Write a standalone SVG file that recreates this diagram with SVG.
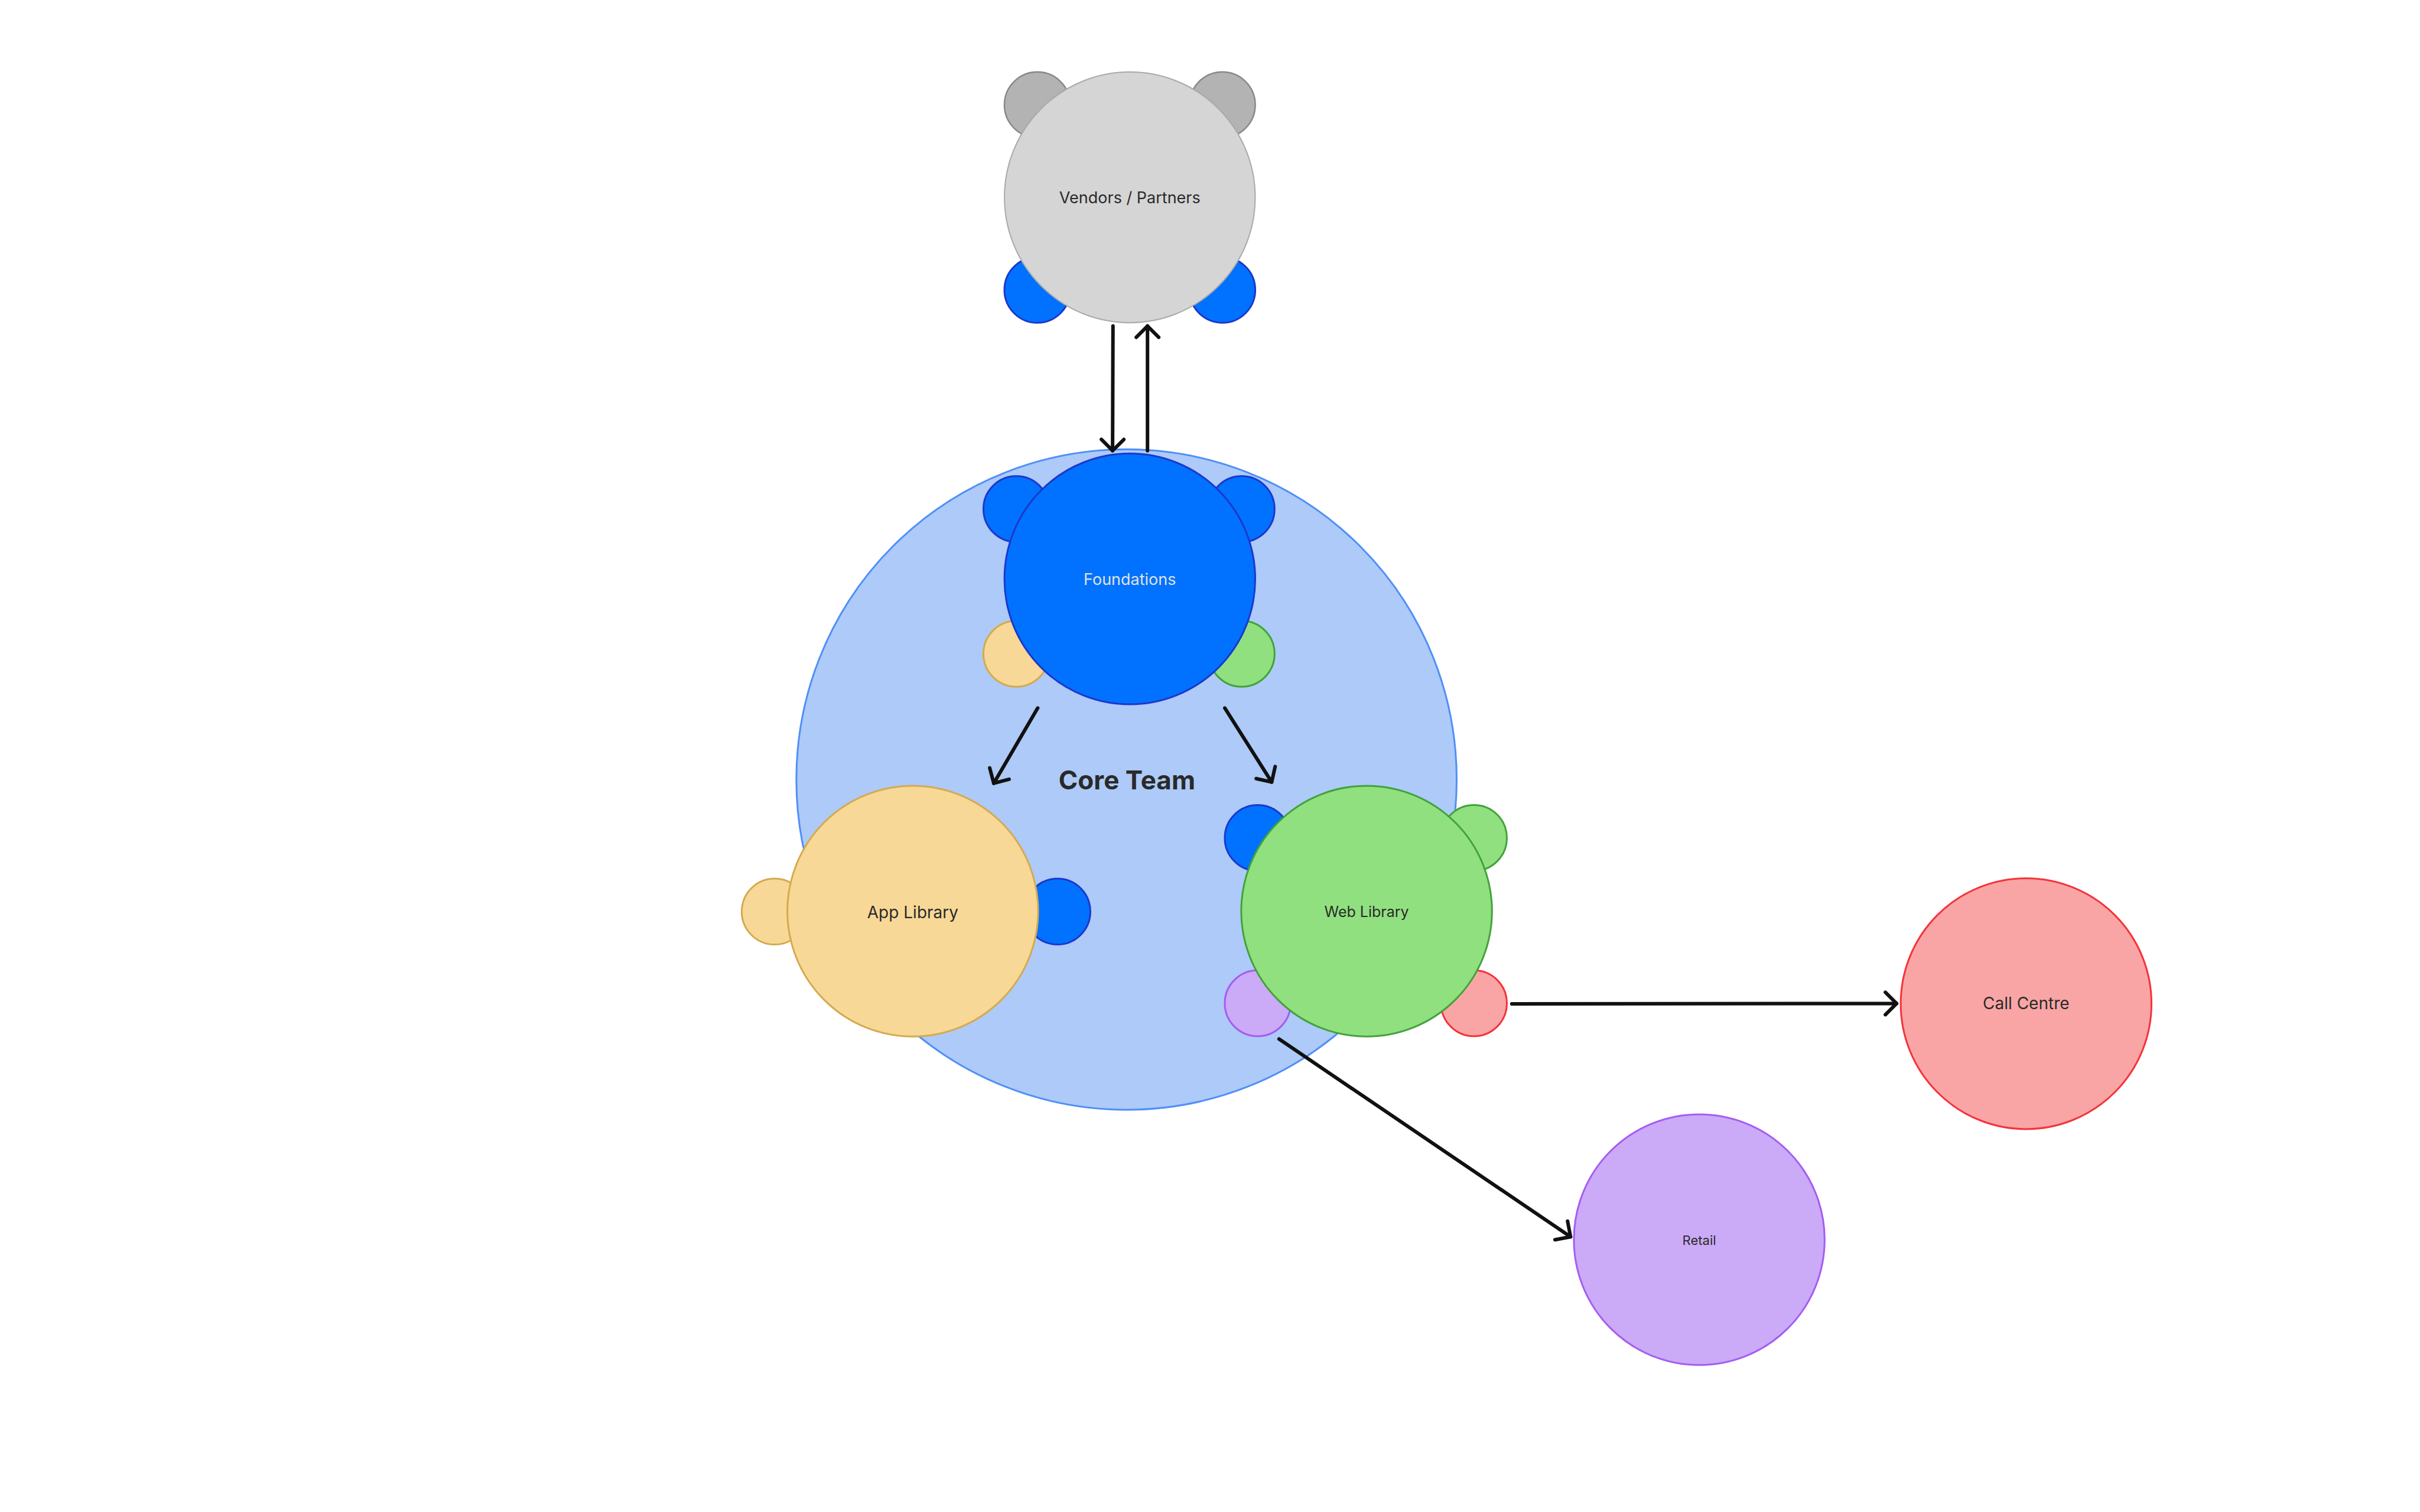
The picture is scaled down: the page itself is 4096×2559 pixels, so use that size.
<svg xmlns="http://www.w3.org/2000/svg" width="4096" height="2559" viewBox="0 0 4096 2559">
<style>
text{font-family:Inter,"Noto Sans","Liberation Sans",sans-serif;text-anchor:middle;fill:#2a2a2a}
.gray{fill:#d5d5d5;stroke:#a9a9a9;stroke-width:2}
.gray2{fill:#b3b3b3;stroke:#888888;stroke-width:2.5}
.blue{fill:#0072ff;stroke:#1c38cc;stroke-width:3}
.core{fill:#adcaf8;stroke:#4f8ff7;stroke-width:3}
.yel{fill:#f7d896;stroke:#d4aa4f;stroke-width:3}
.grn{fill:#90e080;stroke:#42a23a;stroke-width:3}
.red{fill:#f9a5a5;stroke:#f5323a;stroke-width:3}
.pur{fill:#cbaaf7;stroke:#a55cf2;stroke-width:3}
.conn{fill:none;stroke:#111111;stroke-width:6;stroke-linecap:round;marker-end:url(#arr)}
</style>
<defs>
<marker id="arr" viewBox="-25 -25 50 50" markerWidth="50" markerHeight="50" refX="0" refY="0" orient="auto" markerUnits="userSpaceOnUse">
<path d="M-19,-19 L0,0 L-19,19" fill="none" stroke="#111111" stroke-width="6" stroke-linecap="round" stroke-linejoin="round"/>
</marker>
</defs>
<rect width="4096" height="2559" fill="#ffffff"/>
<g id="core-team">
<circle class="core" cx="1906.7" cy="1319.4" r="558.8"/>
<text x="1907.4" y="1336" font-size="44" font-weight="700">Core Team</text>
</g>
<g id="vendors-partners">
<circle class="gray2" cx="1755.7" cy="177.4" r="55.7"/>
<circle class="gray2" cx="2068.9" cy="177.4" r="55.7"/>
<circle class="blue" cx="1755.7" cy="490.6" r="55.7"/>
<circle class="blue" cx="2068.9" cy="490.6" r="55.7"/>
<circle class="gray" cx="1912.3" cy="334" r="212.2"/>
<text x="1912.3" y="343.8" font-size="27">Vendors / Partners</text>
</g>
<g id="foundations">
<circle class="blue" cx="1720.2" cy="861.5" r="55.7"/>
<circle class="blue" cx="2101.6" cy="861.5" r="55.7"/>
<circle class="yel" cx="1720.2" cy="1106.5" r="55.7"/>
<circle class="grn" cx="2101.6" cy="1106.5" r="55.7"/>
<circle class="blue" cx="1912.3" cy="979.8" r="212.2"/>
<text x="1912.3" y="989.6" font-size="27" style="fill:#e2e2e2">Foundations</text>
</g>
<g id="app-library">
<circle class="yel" cx="1311.1" cy="1542.8" r="55.7"/>
<circle class="blue" cx="1789.8" cy="1542.8" r="55.7"/>
<circle class="yel" cx="1544.9" cy="1542.1" r="212.2"/>
<text x="1544.9" y="1553.9" font-size="28">App Library</text>
</g>
<g id="web-library">
<circle class="blue" cx="2128.7" cy="1418.2" r="55.7"/>
<circle class="grn" cx="2494.8" cy="1418.2" r="55.7"/>
<circle class="pur" cx="2128.7" cy="1698" r="55.7"/>
<circle class="red" cx="2494.8" cy="1698" r="55.7"/>
<circle class="grn" cx="2313.1" cy="1542.1" r="212.2"/>
<text x="2313.1" y="1551.8" font-size="25">Web Library</text>
</g>
<g id="call-centre">
<circle class="red" cx="3429.3" cy="1698.7" r="212.2"/>
<text x="3429.3" y="1708.4" font-size="28">Call Centre</text>
</g>
<g id="retail">
<circle class="pur" cx="2876.1" cy="2098.1" r="212.2"/>
<text x="2876.1" y="2107.2" font-size="22">Retail</text>
</g>
<g id="connectors">
<path class="conn" d="M1883.8,551.8 L1883.1,762.7"/>
<path class="conn" d="M1942.2,762.7 L1942.2,551.8"/>
<path class="conn" d="M1756.4,1198.3 L1682,1325.7"/>
<path class="conn" d="M2073.1,1198.3 L2152.4,1323.6"/>
<path class="conn" d="M2558.8,1699 L3210.1,1698.4"/>
<path class="conn" d="M2164.9,1758.5 L2658.3,2093.2"/>
</g>
</svg>
